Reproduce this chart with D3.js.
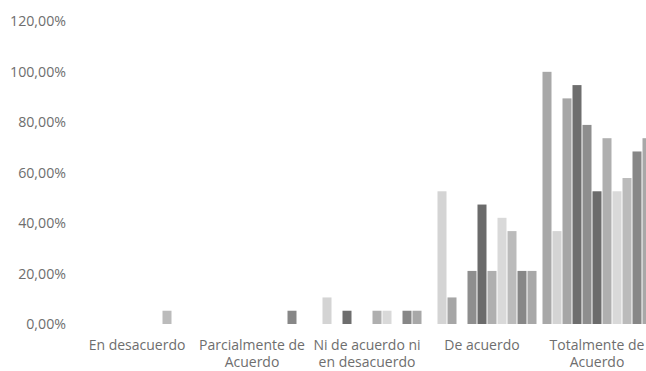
<!DOCTYPE html>
<html>
<head>
<meta charset="utf-8">
<script src="https://cdn.jsdelivr.net/npm/d3@7"></script>
<style>
  html, body { margin: 0; padding: 0; background: #ffffff; }
  svg { display: block; }
  text { font-family: "Open Sans", "Liberation Sans", sans-serif; fill: #6e6e6e; }
</style>
</head>
<body>
<svg id="chart" width="646" height="371"></svg>
<script>
// Response categories (x axis) and their wrapped tick labels
const categories = ["En desacuerdo", "Parcialmente de Acuerdo", "Ni de acuerdo ni en desacuerdo", "De acuerdo", "Totalmente de Acuerdo"];
const categoryLabels = [["En desacuerdo"], ["Parcialmente de", "Acuerdo"], ["Ni de acuerdo ni", "en desacuerdo"], ["De acuerdo"], ["Totalmente de", "Acuerdo"]];

// One series per item, percentage of answers in each category
const seriesNames = ["P1", "P2", "P3", "P4", "P5", "P6", "P7", "P8", "P9", "P10", "P11"];
const seriesValues = [
  [0, 0, 0, 0, 100],
  [0, 0, 10.53, 52.63, 36.84],
  [0, 0, 0, 10.53, 89.47],
  [0, 0, 5.26, 0, 94.74],
  [0, 0, 0, 21.05, 78.95],
  [0, 0, 0, 47.37, 52.63],
  [0, 0, 5.26, 21.05, 73.68],
  [0, 0, 5.26, 42.11, 52.63],
  [5.26, 0, 0, 36.84, 57.89],
  [0, 5.26, 5.26, 21.05, 68.42],
  [0, 0, 5.26, 21.05, 73.68]
];
const seriesColors = ["#a8a8a8", "#d4d4d4", "#a6a6a6", "#6e6e6e", "#8e8e8e", "#6b6b6b", "#afafaf", "#d9d9d9", "#bbbbbb", "#878787", "#a8a8a8"];

// Y axis ticks
const yTicks = [0, 20, 40, 60, 80, 100, 120];

const svg = d3.select("#chart");
const plot = { left: 79.5, right: 654.5, top: 21.4, bottom: 324 };

const x = d3.scaleBand().domain(categories).range([plot.left, plot.right]).padding(0);
const xInner = d3.scaleBand().domain(seriesNames).range([2.5, x.bandwidth() - 2.5]).padding(0);
const y = d3.scaleLinear().domain([0, 120]).range([plot.bottom, plot.top]);

const fmt = v => d3.format(".2f")(v).replace(".", ",") + "%";

// Y axis labels (no axis line or gridlines)
const yAxis = d3.axisLeft(y).tickValues(yTicks).tickFormat(fmt).tickSize(0).tickPadding(0);
const gy = svg.append("g").attr("transform", `translate(66,0)`).call(yAxis);
gy.select(".domain").remove();
gy.selectAll("text").attr("font-size", 14.2).attr("fill", "#6e6e6e")
  .attr("font-family", "'Open Sans', sans-serif");

// Category labels, one text element per line
const xl = svg.append("g");
categories.forEach((c, i) => {
  categoryLabels[i].forEach((line, k) => {
    xl.append("text")
      .attr("x", x(c) + x.bandwidth() / 2)
      .attr("y", 349.5 + k * 17.5)
      .attr("text-anchor", "middle")
      .attr("font-size", 14)
      .text(line);
  });
});

// Bars
const groups = svg.append("g").selectAll("g")
  .data(seriesNames)
  .join("g")
  .attr("fill", (d, i) => seriesColors[i]);

groups.selectAll("rect")
  .data((s, i) => categories.map((c, j) => ({ c, s, v: seriesValues[i][j] })))
  .join("rect")
  .filter(d => d.v > 0)
  .attr("x", d => x(d.c) + xInner(d.s) + 0.5)
  .attr("width", xInner.bandwidth() - 1)
  .attr("y", d => y(d.v))
  .attr("height", d => y(0) - y(d.v));
</script>
</body>
</html>
